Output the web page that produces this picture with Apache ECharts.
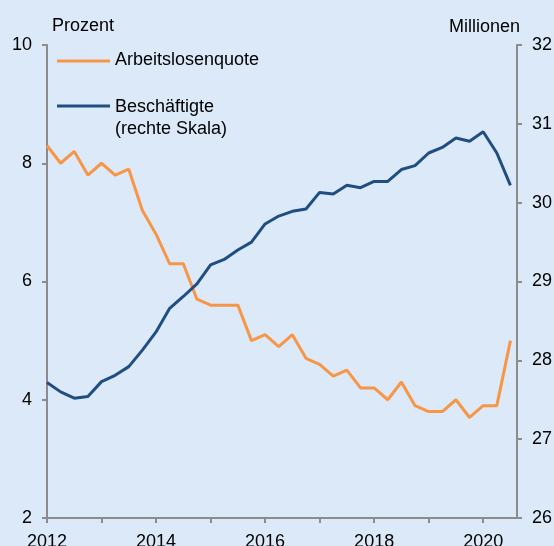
<!DOCTYPE html>
<html>
<head>
<meta charset="utf-8">
<script src="https://cdn.jsdelivr.net/npm/echarts@6/dist/echarts.min.js"></script>
<style>
  html, body { margin: 0; padding: 0; background: #dce9f8; }
  #chart { width: 554px; height: 546px; }
</style>
</head>
<body>
<div id="chart"></div>
<script>
// Quartale ab 2012 Q1 bis 2020 Q3
var quarters = []
for (var y = 2012; y <= 2020; y++) {
  for (var q = 0; q < 4; q++) quarters.push(y + q / 4)
}
quarters = quarters.slice(0, 35)

// Arbeitslosenquote in Prozent (linke Skala)
var quote = [8.3, 8.0, 8.2, 7.8, 8.0, 7.8, 7.9, 7.2, 6.8, 6.3, 6.3, 5.7,
  5.6, 5.6, 5.6, 5.0, 5.1, 4.9, 5.1, 4.7, 4.6, 4.4, 4.5, 4.2, 4.2, 4.0,
  4.3, 3.9, 3.8, 3.8, 4.0, 3.7, 3.9, 3.9, 5.0]

// Beschäftigte in Millionen (rechte Skala)
var beschaeftigte = [27.72, 27.60, 27.52, 27.54, 27.73, 27.81, 27.92, 28.13,
  28.36, 28.66, 28.81, 28.97, 29.21, 29.28, 29.40, 29.50, 29.73, 29.83,
  29.89, 29.92, 30.13, 30.11, 30.22, 30.19, 30.27, 30.27, 30.42, 30.47,
  30.63, 30.70, 30.82, 30.78, 30.90, 30.63, 30.22]

var yearTicks = [2012, 2013, 2014, 2015, 2016, 2017, 2018, 2019, 2020]
var yearLabels = [2012, 2014, 2016, 2018, 2020]

var font = 'Liberation Sans, Arial, sans-serif'
var axisColor = '#8c8c8c'

function pairs(xs, vals) {
  return vals.map(function(v, i) { return [xs[i], v] })
}

var chart = echarts.init(document.getElementById('chart'))
chart.setOption({
  backgroundColor: '#dce9f8',
  animation: false,
  textStyle: { fontFamily: font },
  grid: { left: 47, right: 37, top: 45, bottom: 28, outerBoundsMode: 'none' },
  xAxis: {
    type: 'value',
    min: 2012,
    max: 2020.62,
    splitLine: { show: false },
    axisLine: { lineStyle: { color: axisColor, width: 2 } },
    axisTick: { customValues: yearTicks, length: 5, lineStyle: { color: axisColor, width: 2 } },
    axisLabel: {
      customValues: yearLabels, color: '#000', fontSize: 18, margin: 15, fontFamily: font,
      formatter: function(v) { return String(v) }
    }
  },
  yAxis: [{
    type: 'value',
    min: 2,
    max: 10,
    interval: 2,
    name: 'Prozent',
    nameGap: 10,
    nameTextStyle: { color: '#000', fontSize: 18, align: 'left', padding: [0, 0, 0, 5], fontFamily: font },
    splitLine: { show: false },
    axisLine: { show: true, lineStyle: { color: axisColor, width: 2 } },
    axisTick: { show: true, length: 5, lineStyle: { color: axisColor, width: 2 } },
    axisLabel: { color: '#000', fontSize: 18, margin: 15, fontFamily: font }
  }, {
    type: 'value',
    position: 'right',
    min: 26,
    max: 32,
    interval: 1,
    name: 'Millionen',
    nameGap: 9,
    nameTextStyle: { color: '#000', fontSize: 18, align: 'right', padding: [0, -3, 0, 0], fontFamily: font },
    splitLine: { show: false },
    axisLine: { show: true, lineStyle: { color: axisColor, width: 2 } },
    axisTick: { show: true, length: 5, lineStyle: { color: axisColor, width: 2 } },
    axisLabel: { color: '#000', fontSize: 18, margin: 15, fontFamily: font }
  }],
  graphic: [
    { type: 'line', shape: { x1: 57, y1: 61, x2: 110, y2: 61 }, style: { stroke: '#f79646', lineWidth: 3 } },
    { type: 'text', left: 115, top: 51, style: { text: 'Arbeitslosenquote', fill: '#000', font: '18px ' + font } },
    { type: 'line', shape: { x1: 57, y1: 106, x2: 110, y2: 106 }, style: { stroke: '#1f4e82', lineWidth: 3 } },
    { type: 'text', left: 115, top: 96, style: { text: 'Beschäftigte\n(rechte Skala)', fill: '#000', font: '18px ' + font, lineHeight: 22 } }
  ],
  series: [{
    name: 'Arbeitslosenquote',
    type: 'line',
    yAxisIndex: 0,
    showSymbol: false,
    data: pairs(quarters, quote),
    lineStyle: { color: '#f79646', width: 3 },
    itemStyle: { color: '#f79646' }
  }, {
    name: 'Beschäftigte',
    type: 'line',
    yAxisIndex: 1,
    showSymbol: false,
    data: pairs(quarters, beschaeftigte),
    lineStyle: { color: '#1f4e82', width: 3 },
    itemStyle: { color: '#1f4e82' }
  }]
})
</script>
</body>
</html>
